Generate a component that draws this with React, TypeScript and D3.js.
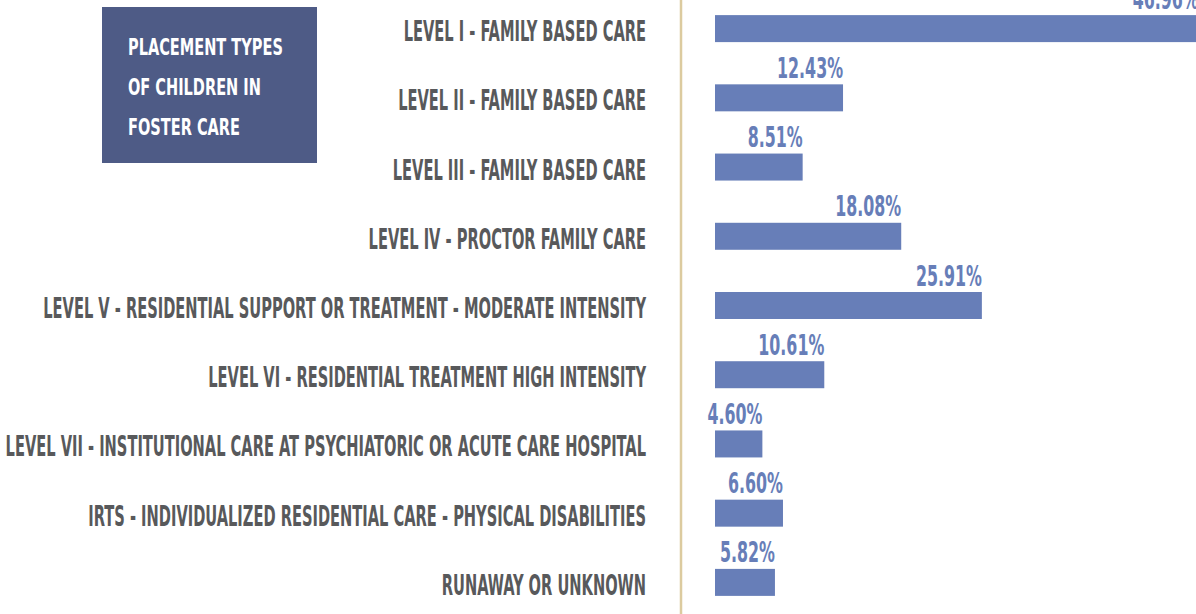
import React, { useEffect, useRef } from 'react';
import * as d3 from 'd3';

const categories = [
  'LEVEL I - FAMILY BASED CARE',
  'LEVEL II - FAMILY BASED CARE',
  'LEVEL III - FAMILY BASED CARE',
  'LEVEL IV - PROCTOR FAMILY CARE',
  'LEVEL V - RESIDENTIAL SUPPORT OR TREATMENT - MODERATE INTENSITY',
  'LEVEL VI - RESIDENTIAL TREATMENT HIGH INTENSITY',
  'LEVEL VII - INSTITUTIONAL CARE AT PSYCHIATORIC OR ACUTE CARE HOSPITAL',
  'IRTS - INDIVIDUALIZED RESIDENTIAL CARE - PHYSICAL DISABILITIES',
  'RUNAWAY OR UNKNOWN',
];
const values = [46.96, 12.43, 8.51, 18.08, 25.91, 10.61, 4.6, 6.6, 5.82];
const titleLines = ['PLACEMENT TYPES', 'OF CHILDREN IN', 'FOSTER CARE'];

const W = 1196;
const H = 614;
const FONT = "'Liberation Sans Narrow', 'DejaVu Sans Condensed', 'Roboto', sans-serif";

const App = () => {
  const svgRef = useRef<SVGSVGElement>(null);

  useEffect(() => {
    const svg = d3.select(svgRef.current);
    svg.selectAll('*').remove();

    const data = categories.map((c, i) => ({ cat: c, value: values[i] }));

    const x = d3.scaleLinear().domain([0, 50]).range([715, 1230]);
    const y = d3.scaleBand<string>()
      .domain(categories)
      .range([-6, 617])
      .paddingInner(0.61)
      .paddingOuter(0.305);

    // title box
    const box = svg.append('g');
    box.append('rect')
      .attr('x', 102).attr('y', 7).attr('width', 215).attr('height', 156)
      .attr('fill', '#4e5b86');
    const titleTexts = box.selectAll('text.title')
      .data(titleLines)
      .enter().append('text')
      .attr('class', 'title')
      .attr('font-family', FONT).attr('font-weight', 'bold')
      .attr('font-size', 23.5).attr('fill', '#ffffff')
      .text(d => d);
    const tW = (titleTexts.node() as SVGTextElement).getComputedTextLength();
    const tS = 155 / tW;
    titleTexts.attr('transform', (_, i) => `translate(128,${54.5 + i * 40}) scale(${tS},1)`);

    // divider
    svg.append('line')
      .attr('x1', 681).attr('x2', 681).attr('y1', 0).attr('y2', H)
      .attr('stroke', '#dccb9f').attr('stroke-width', 2.5);

    // bars
    svg.selectAll('rect.bar')
      .data(data)
      .enter().append('rect')
      .attr('class', 'bar')
      .attr('x', x(0))
      .attr('y', d => y(d.cat)!)
      .attr('width', d => x(d.value) - x(0))
      .attr('height', y.bandwidth())
      .attr('fill', '#677eb8');

    // category labels
    const labels = svg.selectAll('text.cat')
      .data(data)
      .enter().append('text')
      .attr('class', 'cat')
      .attr('text-anchor', 'end')
      .attr('font-family', FONT).attr('font-weight', 'bold')
      .attr('font-size', 27.5).attr('fill', '#58595b')
      .text(d => d.cat);
    const longest = labels.nodes()[6] as SVGTextElement;
    const lS = 641 / longest.getComputedTextLength();
    labels.attr('transform', d => `translate(646,${y(d.cat)! + y.bandwidth() / 2 + 12.5}) scale(${lS},1)`);

    // value labels
    const fmt = d3.format('.2f');
    const vals = svg.selectAll('text.val')
      .data(data)
      .enter().append('text')
      .attr('class', 'val')
      .attr('text-anchor', 'end')
      .attr('font-family', FONT).attr('font-weight', 'bold')
      .attr('font-size', 27.5).attr('fill', '#677eb8')
      .text(d => `${fmt(d.value)}%`);
    const vS = 66 / (vals.nodes()[1] as SVGTextElement).getComputedTextLength();
    vals.attr('transform', d => `translate(${x(d.value)},${y(d.cat)! - 6.5}) scale(${vS},1)`);
  }, []);

  return (
    <svg
      ref={svgRef}
      width={W}
      height={H}
      style={{ position: 'absolute', left: 0, top: 0, background: '#ffffff' }}
    />
  );
};

export default App;
